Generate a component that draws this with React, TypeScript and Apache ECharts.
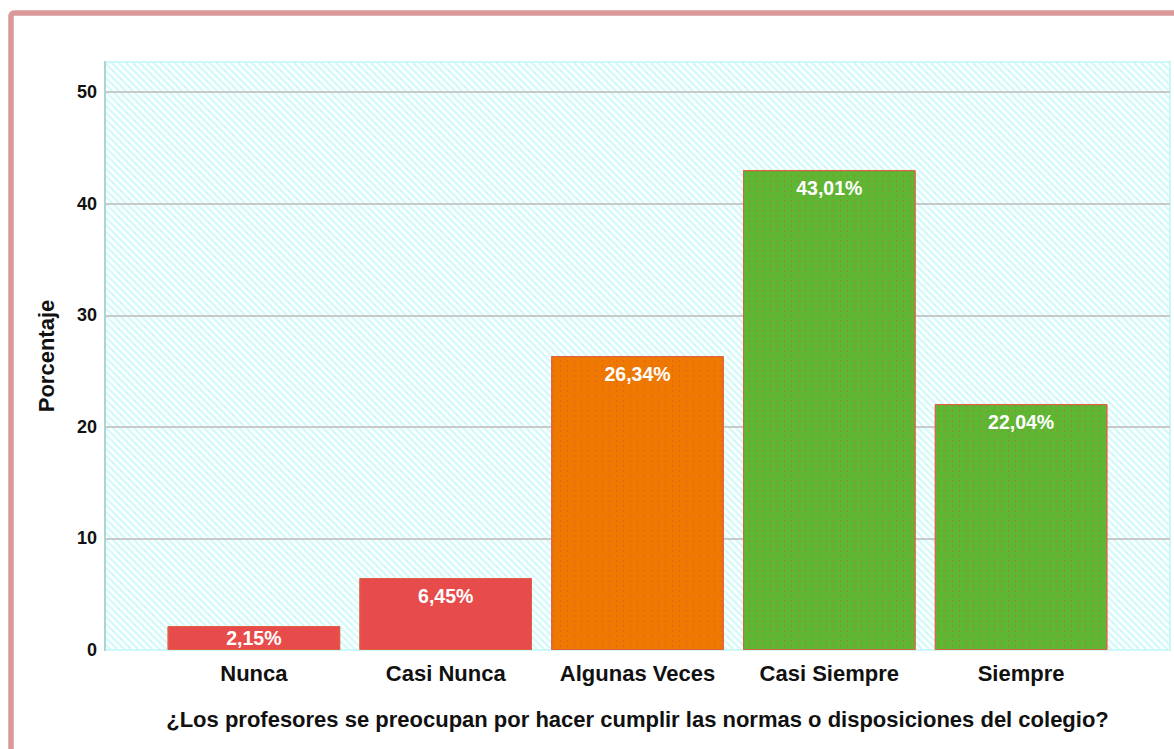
import React, { useEffect, useRef } from "react";
import * as echarts from "echarts";

const categories = ["Nunca", "Casi Nunca", "Algunas Veces", "Casi Siempre", "Siempre"];
const percentages = [2.15, 6.45, 26.34, 43.01, 22.04];
const barColors = ["#e84b4b", "#e84b4b", "#ee7800", "#5db733", "#5db733"];
const yTicks = [0, 10, 20, 30, 40, 50];
const yAxisMax = 52.7;
const yAxisName = "Porcentaje";
const xAxisName = "¿Los profesores se preocupan por hacer cumplir las normas o disposiciones del colegio?";

function makeHatch(): HTMLCanvasElement {
  const c = document.createElement("canvas");
  const s = 7;
  c.width = s;
  c.height = s;
  const ctx = c.getContext("2d")!;
  ctx.fillStyle = "#ffffff";
  ctx.fillRect(0, 0, s, s);
  ctx.strokeStyle = "#d4fafa";
  ctx.lineWidth = 2.5;
  ctx.beginPath();
  ctx.moveTo(-2, -2);
  ctx.lineTo(s + 2, s + 2);
  ctx.moveTo(-2, s - 2);
  ctx.lineTo(2, s + 2);
  ctx.moveTo(s - 2, -2);
  ctx.lineTo(s + 2, 2);
  ctx.stroke();
  return c;
}

const FONT = "'Liberation Sans', Arial, sans-serif";

export default function App() {
  const ref = useRef<HTMLDivElement>(null);
  useEffect(() => {
    if (!ref.current) return;
    const chart = echarts.init(ref.current, undefined, { renderer: "svg" });
    const hatch = makeHatch();
    const decal = {
      symbol: "rect",
      symbolSize: 1,
      color: "rgba(215,85,60,0.55)",
      dashArrayX: [1, 6],
      dashArrayY: [2, 3],
      rotation: 0,
    };
    chart.setOption({
      animation: false,
      backgroundColor: "#ffffff",
      graphic: [
        {
          type: "rect",
          shape: { x: 11, y: 13, width: 1300, height: 900, r: 3 },
          style: { fill: "none", stroke: "#db9898", lineWidth: 5.5 },
          z: 100,
        },
      ],
      grid: [
        {
          left: 105,
          top: 62,
          width: 1065,
          height: 588,
          show: true,
          backgroundColor: { image: hatch, repeat: "repeat" } as any,
          borderColor: "#cdf6f6",
          borderWidth: 2,
        },
        { left: 158, top: 62, width: 959, height: 588 },
      ],
      xAxis: [
        { type: "value", gridIndex: 0, show: false, min: 0, max: 1 },
        {
          type: "category",
          gridIndex: 1,
          data: categories,
          axisLine: { show: false },
          axisTick: { show: false },
          axisLabel: {
            interval: 0,
            margin: 12,
            color: "#111111",
            fontFamily: FONT,
            fontWeight: "bold",
            fontSize: 22,
          },
          name: xAxisName,
          nameLocation: "middle",
          nameGap: 58,
          nameTextStyle: {
            color: "#111111",
            fontFamily: FONT,
            fontWeight: "bold",
            fontSize: 22,
          },
        },
      ],
      yAxis: [
        {
          type: "value",
          gridIndex: 0,
          min: 0,
          max: yAxisMax,
          interval: 10,
          axisLine: { show: true, lineStyle: { color: "#a9d5d5", width: 2 } },
          axisTick: { show: false },
          axisLabel: {
            showMaxLabel: false,
            margin: 8,
            color: "#111111",
            fontFamily: FONT,
            fontWeight: "bold",
            fontSize: 18,
            formatter: (v: number) => (yTicks.includes(v) ? String(v) : ""),
          },
          splitLine: {
            show: true,
            showMinLine: false,
            showMaxLine: false,
            lineStyle: { color: "#c8caca", width: 2 },
          } as any,
          name: yAxisName,
          nameLocation: "middle",
          nameRotate: 90,
          nameGap: 48,
          nameTextStyle: {
            color: "#111111",
            fontFamily: FONT,
            fontWeight: "bold",
            fontSize: 22,
          },
        },
        { type: "value", gridIndex: 1, min: 0, max: yAxisMax, show: false },
      ],
      series: [
        {
          type: "bar",
          xAxisIndex: 1,
          yAxisIndex: 1,
          barWidth: "90%",
          data: percentages.map((v, i) => ({
            value: v,
            itemStyle: {
              color: barColors[i],
              borderColor: "rgba(225,95,65,0.9)",
              borderWidth: 1,
              decal,
            },
            label: i === 0 ? { position: "inside" } : undefined,
          })),
          label: {
            show: true,
            position: "insideTop",
            distance: 8,
            color: "#ffffff",
            fontFamily: FONT,
            fontWeight: "bold",
            fontSize: 19.5,
            formatter: (p: any) => p.value.toFixed(2).replace(".", ",") + "%",
          },
          z: 3,
        },
      ],
    });
    return () => chart.dispose();
  }, []);
  return (
    <div
      ref={ref}
      style={{ position: "fixed", left: 0, top: 0, width: 1174, height: 749 }}
    />
  );
}
